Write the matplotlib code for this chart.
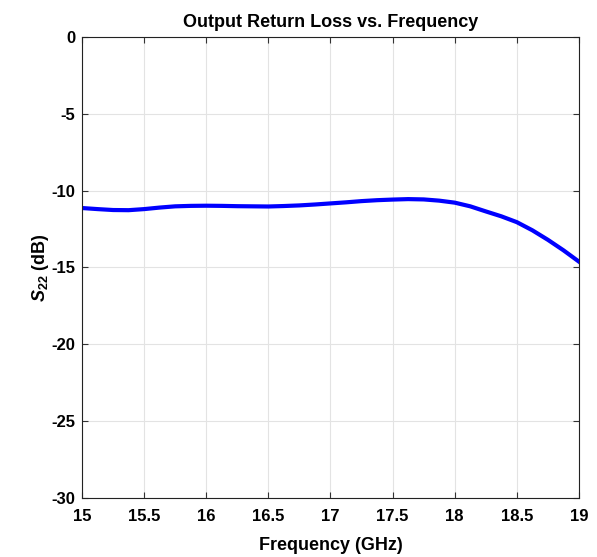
import matplotlib
matplotlib.use("Agg")
import matplotlib.pyplot as plt

# valeurs
freq = [15.0, 15.125, 15.25, 15.375, 15.5, 15.625, 15.75, 15.875, 16.0,
        16.125, 16.25, 16.375, 16.5, 16.625, 16.75, 16.875, 17.0,
        17.125, 17.25, 17.375, 17.5, 17.625, 17.75, 17.875, 18.0,
        18.125, 18.25, 18.375, 18.5, 18.625, 18.75, 18.875, 19.0]
s22 = [-11.13, -11.20, -11.26, -11.27, -11.20, -11.10, -11.02, -10.99, -10.98,
       -10.99, -11.01, -11.02, -11.03, -11.00, -10.96, -10.90, -10.83,
       -10.76, -10.68, -10.62, -10.58, -10.55, -10.57, -10.65, -10.78,
       -11.02, -11.35, -11.67, -12.05, -12.58, -13.20, -13.88, -14.62]

xticks = [15, 15.5, 16, 16.5, 17, 17.5, 18, 18.5, 19]
yticks = [0, -5, -10, -15, -20, -25, -30]

plt.rcParams['font.family'] = 'Liberation Sans'
plt.rcParams['font.weight'] = 'bold'
plt.rcParams['mathtext.fontset'] = 'custom'
plt.rcParams['mathtext.it'] = 'Liberation Sans:italic:bold'
plt.rcParams['mathtext.rm'] = 'Liberation Sans:bold'

fig = plt.figure(figsize=(5.97, 5.57), dpi=100)
ax = fig.add_axes([0.1374, 0.1059, 0.8324, 0.8277])

ax.plot(freq, s22, color=(0, 0, 1), linewidth=3)

ax.set_xlim(15, 19)
ax.set_ylim(-30, 0)
ax.set_xticks(xticks)
ax.set_xticklabels([f"{t:g}" for t in xticks])
ax.set_yticks(yticks)
ax.set_yticklabels([f"{t:g}" for t in yticks])
ax.grid(True, color='#e3e3e3', linewidth=0.8)
ax.set_axisbelow(True)
ax.tick_params(direction='in', top=True, right=True, labelsize=12,
               color='#333333', length=4)
ax.tick_params(axis='x', pad=8)
ax.tick_params(axis='y', pad=5)
for s in ax.spines.values():
    s.set_color('#222222')
    s.set_linewidth(0.8)

ax.set_xlabel("Frequency (GHz)", fontsize=13, fontweight='bold', labelpad=9)
ax.set_ylabel(r"$S_{22}$ (dB)", fontsize=13, fontweight='bold', labelpad=0)
ax.set_title("Output Return Loss vs. Frequency", fontsize=13, fontweight='bold', pad=7)

fig.savefig("out.png", dpi=100)
